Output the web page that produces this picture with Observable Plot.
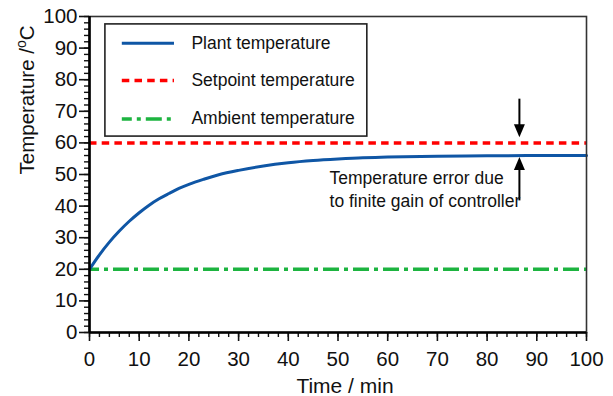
<!DOCTYPE html>
<html><head><meta charset="utf-8">
<script src="https://cdn.jsdelivr.net/npm/d3@7"></script>
<script src="https://cdn.jsdelivr.net/npm/@observablehq/plot@0.6"></script>
<style>html,body{margin:0;padding:0;background:#fff}#chart{width:613px;height:396px}</style>
</head><body><div id="chart"></div>
<script>
// ---- data ----
const timeMin   = [0, 2, 4, 6, 8, 10, 12, 14, 16, 18, 20, 23, 26, 30, 35, 40, 45, 50, 55, 60, 70, 80, 90, 100];
const plantTemp = [20.0, 24.6, 28.6, 32.1, 35.2, 37.9, 40.3, 42.3, 44.0, 45.6, 46.9, 48.5, 49.9, 51.3, 52.7, 53.7, 54.4, 54.9, 55.3, 55.5, 55.8, 55.9, 56.0, 56.0];
const setpointTemp = 60;
const ambientTemp = 20;
const xTickLabels = [0, 10, 20, 30, 40, 50, 60, 70, 80, 90, 100];
const yTickLabels = [0, 10, 20, 30, 40, 50, 60, 70, 80, 90, 100];
const minorTicks = [0, 2, 4, 6, 8, 10, 12, 14, 16, 18, 20, 22, 24, 26, 28, 30, 32, 34, 36, 38, 40, 42, 44, 46, 48, 50, 52, 54, 56, 58, 60, 62, 64, 66, 68, 70, 72, 74, 76, 78, 80, 82, 84, 86, 88, 90, 92, 94, 96, 98, 100];
const legendLabels = ["Plant temperature", "Setpoint temperature", "Ambient temperature"];
const annotationLines = ["Temperature error due", "to finite gain of controller"];
const errorTime = 86.5;        // where the error arrows sit
const xTitle = "Time / min";
const yTitleMain = "Temperature /", yTitleSup = "o", yTitleUnit = "C";

// ---- layout & styles (kept apart from data) ----
const C = {plant: "#0f56a5", setpoint: "#ff0000", ambient: "#1db440"};
const styles = [
  {stroke: C.plant, strokeWidth: 3},
  {stroke: C.setpoint, strokeWidth: 3.5, strokeDasharray: "7.5,5.2"},
  {stroke: C.ambient, strokeWidth: 3.5, strokeDasharray: "16,5,4,5", strokeDashoffset: 6}
];
const L = {box: {x1: 3.2, x2: 55.9, y1: 62, y2: 97.5}, lineX1: 6.6, lineX2: 17.1, textX: 20.5, rowY: [91.55, 79.75, 67.6]};
const A = {textX: 48.3, textY: [47.06, 39.6], downFrom: 74, downTip: 61.8, upFrom: 41.8, upTip: 55.5};

const plantData = timeMin.map((t, i) => ({t, T: plantTemp[i]}));
const legendData = legendLabels.map((label, i) => ({label, y: L.rowY[i], i}));

const downHead = {draw(ctx) { ctx.moveTo(0, 0); ctx.lineTo(-5.5, -13); ctx.lineTo(5.5, -13); ctx.closePath(); }};
const upHead   = {draw(ctx) { ctx.moveTo(0, 0); ctx.lineTo(-5.5, 13); ctx.lineTo(5.5, 13); ctx.closePath(); }};

const font = "'Liberation Sans', Arial, Helvetica, sans-serif";

const chart = Plot.plot({
  width: 613, height: 396,
  marginLeft: 89, marginRight: 27, marginTop: 16, marginBottom: 64,
  style: {fontFamily: font, fontSize: "20.5px", color: "#111", background: "#fff"},
  x: {domain: [0, 100]},
  y: {domain: [0, 100]},
  marks: [
    Plot.ruleY([ambientTemp], {...styles[2]}),
    Plot.ruleY([setpointTemp], {...styles[1]}),
    Plot.line(plantData, {x: "t", y: "T", curve: "monotone-x", ...styles[0]}),
    // legend
    Plot.rect([L.box], {x1: "x1", x2: "x2", y1: "y1", y2: "y2", fill: "white", stroke: "#222", strokeWidth: 1.6}),
    ...legendData.map(d => Plot.ruleY([d.y], {x1: L.lineX1, x2: L.lineX2, y: v => v, ...styles[d.i]})),
    Plot.text(legendData, {x: L.textX, y: "y", text: "label", textAnchor: "start", lineAnchor: "middle", fontSize: 17.5, fill: "#111"}),
    // error arrows
    Plot.link([{t: errorTime}], {x1: "t", x2: "t", y1: A.downFrom, y2: A.downTip + 2, stroke: "black", strokeWidth: 2}),
    Plot.link([{t: errorTime}], {x1: "t", x2: "t", y1: A.upFrom, y2: A.upTip - 2, stroke: "black", strokeWidth: 2}),
    Plot.dot([{t: errorTime}], {x: "t", y: A.downTip, symbol: downHead, fill: "black", stroke: null, r: 5}),
    Plot.dot([{t: errorTime}], {x: "t", y: A.upTip, symbol: upHead, fill: "black", stroke: null, r: 5}),
    Plot.text(annotationLines, {x: A.textX, y: (d, i) => A.textY[i], text: d => d, textAnchor: "start", lineAnchor: "bottom", fontSize: 17.5, fill: "#111"}),
    // frame and axes
    Plot.frame({stroke: "#333", strokeWidth: 1.6}),
    Plot.axisY(minorTicks, {tickSize: 5, tickFormat: () => "", label: null, strokeWidth: 1.4}),
    Plot.axisY(yTickLabels, {tickSize: 10, tickPadding: 2, label: null, fontSize: 20.5, strokeWidth: 1.6, fill: "#111"}),
    Plot.axisX(minorTicks, {tickSize: 5, tickFormat: () => "", label: null, strokeWidth: 1.4}),
    Plot.axisX(xTickLabels, {tickSize: 9, tickPadding: 10, label: null, fontSize: 20.5, strokeWidth: 1.6, fill: "#111"}),
    Plot.ruleX([0], {strokeWidth: 2.6, stroke: "black"}),
    Plot.ruleY([0], {strokeWidth: 2.6, stroke: "black"}),
    Plot.text([xTitle], {frameAnchor: "bottom", text: d => d, dy: 60, dx: 7, lineAnchor: "bottom", fontSize: 21, fill: "#111"}),
    Plot.text([yTitleMain + yTitleSup + yTitleUnit], {frameAnchor: "left", text: d => d, rotate: -90, dx: -56, lineAnchor: "bottom", fontSize: 20.5, fill: "#111"})
  ]
});
document.getElementById("chart").appendChild(chart);

// superscript "o" in the y title
const full = yTitleMain + yTitleSup + yTitleUnit;
const el = [...chart.querySelectorAll("text")].find(t => t.textContent === full);
if (el) {
  const ns = "http://www.w3.org/2000/svg";
  el.textContent = "";
  el.appendChild(document.createTextNode(yTitleMain));
  const sup = document.createElementNS(ns, "tspan");
  sup.setAttribute("font-size", "14");
  sup.setAttribute("dy", "-8");
  sup.textContent = yTitleSup;
  const unit = document.createElementNS(ns, "tspan");
  unit.setAttribute("dy", "8");
  unit.textContent = yTitleUnit;
  el.appendChild(sup); el.appendChild(unit);
}
</script>
</body></html>
